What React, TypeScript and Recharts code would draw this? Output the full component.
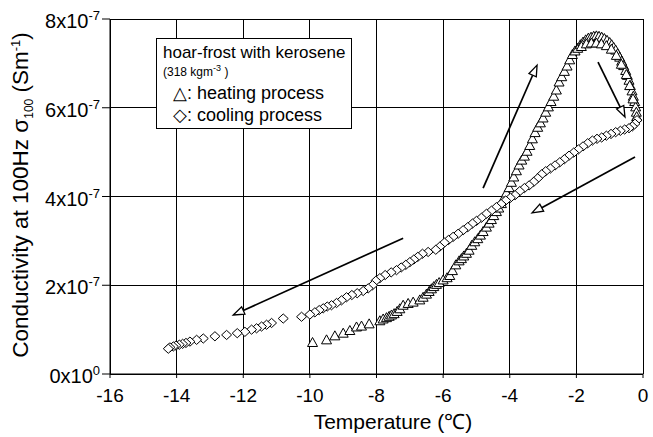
import React from 'react';
import { ScatterChart, Scatter, XAxis, YAxis, CartesianGrid, ReferenceLine } from 'recharts';

const FONT = '"Liberation Sans", Arial, sans-serif';

// temperature (deg C) and conductivity (x 1e-7 S/m), heating run
const heatT = [
  -9.92, -9.5, -9.25, -9.0, -8.8, -8.6, -8.45, -8.22, -7.9, -7.8, -7.7, -7.62, -7.55, -7.47, -7.38, -7.3,
  -7.2, -7.05, -6.9, -6.7, -6.6, -6.5, -6.42, -6.35, -6.28, -6.2, -6.12, -6.0, -5.88, -5.8, -5.72, -5.62,
  -5.52, -5.45, -5.38, -5.3, -5.22, -5.14, -5.05, -4.96, -4.88, -4.8, -4.7, -4.62, -4.55, -4.48, -4.4, -4.33,
  -4.25, -4.18, -4.1, -4.02, -3.95, -3.88, -3.8, -3.72, -3.64, -3.56, -3.48, -3.4, -3.32, -3.24, -3.16, -3.08,
  -3.0, -2.92, -2.84, -2.76, -2.68, -2.6, -2.52, -2.44, -2.36, -2.28, -2.2, -2.12, -2.04, -1.96, -1.88, -1.8,
  -1.72, -1.64, -1.56, -1.48, -1.4, -1.32, -1.24, -1.16, -1.08, -1.0, -0.94, -0.88, -0.82, -0.76, -0.7, -0.64,
  -0.58, -0.52, -0.47, -0.42, -0.38, -0.33, -0.29, -0.25, -0.22, -0.2, -0.19,
  -1.85, -1.7, -1.55, -1.4, -1.25, -1.1, -0.95, -0.8, -0.65, -0.5, -0.4, -0.3,
];
const heatS = [
  0.71, 0.77, 0.86, 0.92, 0.98, 1.06, 1.08, 1.13, 1.2, 1.24, 1.27, 1.3, 1.33, 1.36, 1.41, 1.47,
  1.55, 1.59, 1.62, 1.67, 1.73, 1.8, 1.86, 1.92, 1.97, 2.02, 2.06, 2.12, 2.17, 2.22, 2.33, 2.46,
  2.55, 2.6, 2.66, 2.72, 2.79, 2.9, 2.98, 3.05, 3.13, 3.21, 3.31, 3.4, 3.48, 3.57, 3.66, 3.74,
  3.84, 3.96, 4.08, 4.2, 4.32, 4.44, 4.58, 4.71, 4.82, 4.91, 5.02, 5.15, 5.3, 5.44, 5.56, 5.66,
  5.77, 5.9, 6.02, 6.14, 6.26, 6.4, 6.58, 6.7, 6.82, 6.94, 7.08, 7.2, 7.28, 7.34, 7.42, 7.48,
  7.53, 7.57, 7.59, 7.61, 7.62, 7.61, 7.59, 7.56, 7.52, 7.47, 7.42, 7.36, 7.3, 7.22, 7.14, 7.05,
  6.95, 6.84, 6.73, 6.62, 6.5, 6.38, 6.26, 6.14, 6.02, 5.9, 5.8,
  7.38, 7.44, 7.46, 7.46, 7.44, 7.4, 7.32, 7.18, 6.98, 6.75, 6.5, 6.2,
];

// cooling run
const coolT = [
  -0.18, -0.24, -0.32, -0.42, -0.55, -0.68, -0.82, -0.96, -1.1, -1.24, -1.38, -1.52, -1.66, -1.8, -1.94, -2.08,
  -2.22, -2.36, -2.5, -2.64, -2.78, -2.92, -3.04, -3.16, -3.28, -3.42, -3.56, -3.7, -3.84, -3.98, -4.12, -4.26,
  -4.4, -4.55, -4.7, -4.85, -5.0, -5.12, -5.26, -5.4, -5.55, -5.7, -5.84, -5.96, -6.1, -6.22, -6.45, -6.62,
  -6.76, -6.88, -7.0, -7.12, -7.26, -7.4, -7.56, -7.74, -7.9, -8.02, -8.12, -8.25, -8.4, -8.58, -8.74, -8.9,
  -9.05, -9.2, -9.35, -9.48, -9.6, -9.72, -9.85, -10.0, -10.25, -10.8, -11.15, -11.3, -11.45, -11.6, -11.75, -11.95,
  -12.18, -12.5, -12.85, -13.2, -13.4, -13.6, -13.72, -13.82, -13.92, -14.02, -14.1, -14.2, -14.25,
];
const coolS = [
  5.72, 5.64, 5.58, 5.54, 5.51, 5.48, 5.45, 5.41, 5.37, 5.33, 5.3, 5.26, 5.2, 5.13, 5.06, 4.99,
  4.92, 4.84, 4.77, 4.7, 4.63, 4.57, 4.5, 4.41, 4.33, 4.25, 4.19, 4.12, 4.03, 3.97, 3.91, 3.83,
  3.76, 3.68, 3.61, 3.52, 3.45, 3.39, 3.31, 3.24, 3.16, 3.09, 3.02, 2.96, 2.87, 2.8, 2.75, 2.71,
  2.64, 2.58, 2.52, 2.46, 2.4, 2.34, 2.29, 2.23, 2.16, 2.1, 2.0, 1.93, 1.87, 1.82, 1.78, 1.73,
  1.66, 1.6, 1.55, 1.52, 1.48, 1.44, 1.39, 1.34, 1.29, 1.25, 1.15, 1.11, 1.07, 1.03, 1.0, 0.95,
  0.92, 0.88, 0.85, 0.8, 0.77, 0.73, 0.7, 0.68, 0.66, 0.64, 0.62, 0.6, 0.57,
];

// direction arrows (tail -> head)
const arrowFromT = [-7.2, -4.8, -1.35, -0.24];
const arrowFromS = [3.06, 4.19, 7.03, 4.89];
const arrowToT = [-12.3, -3.18, -0.54, -3.33];
const arrowToS = [1.33, 6.96, 5.79, 3.63];

const xTicks = [-16, -14, -12, -10, -8, -6, -4, -2, 0];
const xMinor = Array.from({ length: 33 }, (_, i) => -16 + i * 0.5);
const yTicks = [0, 2, 4, 6, 8];
const yMinor = Array.from({ length: 21 }, (_, i) => +(i * 0.4).toFixed(1));
const yMant = ['0x10', '2x10', '4x10', '6x10', '8x10'];
const yExp = ['0', '-7', '-7', '-7', '-7'];

const heat = heatT.map((t, i) => ({ t, s: heatS[i] }));
const cool = coolT.map((t, i) => ({ t, s: coolS[i] }));

const Tri = (p: any) => {
  const { cx, cy } = p;
  if (cx == null || cy == null) return <g />;
  return (
    <polygon
      points={`${cx},${cy - 5} ${cx + 5},${cy + 4} ${cx - 5},${cy + 4}`}
      fill="#fff" stroke="#000" strokeWidth={1}
    />
  );
};

const Dia = (p: any) => {
  const { cx, cy } = p;
  if (cx == null || cy == null) return <g />;
  return (
    <polygon
      points={`${cx},${cy - 4.6} ${cx + 5},${cy} ${cx},${cy + 4.6} ${cx - 5},${cy}`}
      fill="#fff" stroke="#000" strokeWidth={1}
    />
  );
};

const Arrow = (p: any) => {
  const { x1, y1, x2, y2 } = p;
  const a = Math.atan2(y2 - y1, x2 - x1);
  const L = 11, W = 4;
  const bx = x2 - L * Math.cos(a), by = y2 - L * Math.sin(a);
  const pts = [
    [x2, y2],
    [bx + W * Math.sin(a), by - W * Math.cos(a)],
    [bx - W * Math.sin(a), by + W * Math.cos(a)],
  ].map((q) => q.join(',')).join(' ');
  return (
    <g>
      <line x1={x1} y1={y1} x2={bx} y2={by} stroke="#000" strokeWidth={1.7} />
      <polygon points={pts} fill="#fff" stroke="#000" strokeWidth={1.3} />
    </g>
  );
};

const YTick = (p: any) => {
  const { x, y, payload } = p;
  const i = yTicks.indexOf(payload.value);
  return (
    <text x={x} y={y + 9} textAnchor="end" fill="#000" fontFamily={FONT} fontSize={20}>
      {yMant[i]}
      <tspan dy={-8} fontSize={13}>{yExp[i]}</tspan>
    </text>
  );
};

const XTitle = () => (
  <text x={393} y={429} textAnchor="middle" fill="#000" fontFamily={FONT} fontSize={21}>
    Temperature (℃)
  </text>
);

const YTitle = () => (
  <text
    x={28} y={195} textAnchor="middle" fill="#000" fontFamily={FONT} fontSize={22.5}
    transform="rotate(-90 28 195)"
  >
    Conductivity at 100Hz  σ<tspan fontSize={12} dy={5}>100</tspan>
    <tspan dy={-5}> (Sm</tspan>
    <tspan fontSize={13} dy={-8}>-1</tspan>
    <tspan dy={8}>)</tspan>
  </text>
);

export default function App() {
  return (
    <div style={{ position: 'absolute', left: 0, top: 0, width: 653, height: 437, background: '#fff' }}>
      <ScatterChart width={653} height={437} margin={{ top: 19, right: 10, bottom: 33, left: 20 }}>
        <CartesianGrid stroke="#000" strokeWidth={1} shapeRendering="crispEdges" />
        <XAxis
          type="number" dataKey="t" domain={[-16, 0]} ticks={xTicks} interval={0} height={30}
          tickSize={4} tickMargin={11} axisLine={{ stroke: '#000' }} tickLine={{ stroke: '#000' }}
          tick={{ fill: '#000', fontSize: 19, fontFamily: FONT }} label={<XTitle />}
        />
        <XAxis
          xAxisId="minor" type="number" domain={[-16, 0]} ticks={xMinor} interval={0} mirror
          tick={false} axisLine={false} tickSize={4} tickLine={{ stroke: '#000' }}
        />
        <YAxis
          type="number" dataKey="s" domain={[0, 8]} ticks={yTicks} interval={0} width={90}
          tickSize={8} tickMargin={2} axisLine={{ stroke: '#000' }} tickLine={{ stroke: '#000' }}
          tick={<YTick />} label={<YTitle />}
        />
        <YAxis
          yAxisId="minor" type="number" domain={[0, 8]} ticks={yMinor} interval={0} mirror
          tick={false} axisLine={false} tickSize={4} tickLine={{ stroke: '#000' }}
        />
        <YAxis
          yAxisId="right" orientation="right" type="number" domain={[0, 8]} ticks={yMinor} interval={0}
          width={0} tick={false} axisLine={false} tickSize={5} tickLine={{ stroke: '#000' }}
        />
        <Scatter data={heat} shape={Tri} isAnimationActive={false} />
        <Scatter data={cool} shape={Dia} isAnimationActive={false} />
        {arrowFromT.map((t, i) => (
          <ReferenceLine
            key={i}
            segment={[{ x: t, y: arrowFromS[i] }, { x: arrowToT[i], y: arrowToS[i] }]}
            shape={Arrow}
            ifOverflow="visible"
          />
        ))}
      </ScatterChart>
      <svg width={653} height={437} style={{ position: 'absolute', left: 0, top: 0, pointerEvents: 'none' }}>
        <rect x={156.5} y={38.5} width={195} height={90} fill="#fff" stroke="#000" strokeWidth={1} />
        <text x={163} y={58} fontFamily={FONT} fontSize={17} fill="#000">hoar-frost with kerosene</text>
        <text x={163} y={76} fontFamily={FONT} fontSize={12} fill="#000">
          (318 kgm<tspan dy={-5} fontSize={9}>-3</tspan><tspan dy={5}> )</tspan>
        </text>
        <text x={173} y={99} fontFamily={FONT} fontSize={18} fill="#000">△: heating process</text>
        <text x={173} y={121} fontFamily={FONT} fontSize={18} fill="#000">◇: cooling process</text>
      </svg>
    </div>
  );
}
